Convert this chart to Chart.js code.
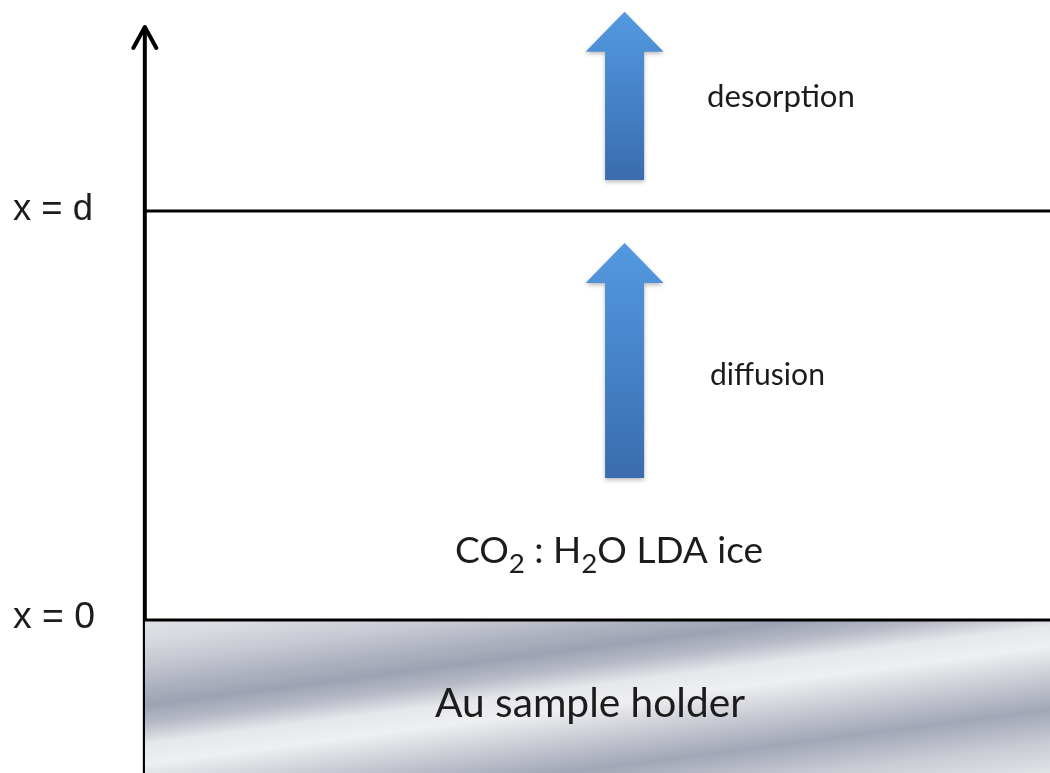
<!DOCTYPE html>
<html><head><meta charset="utf-8">
<script src="https://cdn.jsdelivr.net/npm/chart.js@4.4.1/dist/chart.umd.min.js"></script>
<style>html,body{margin:0;padding:0;background:#fff}#wrap{width:1050px;height:773px;position:relative}</style>
</head><body><div id="wrap"><canvas id="c"></canvas></div>
<script>
// ---- data (depth in units of the ice thickness d) ----
const levelValues = [0, 1];
const levelLabels = ['x = 0', 'x = d'];
const axisRange = [-0.374, 1.45];
const processNames = ['diffusion', 'desorption'];
const processFrom = [0.347, 1.076];
const processTo = [0.922, 1.487];
const regionLabels = ['CO₂ : H₂O LDA ice', 'Au sample holder'];

// ---- layout / style (not data) ----
const X_MIN = -0.160, X_MAX = 1.0, Y_MIN = -0.374, Y_MAX = 1.516;
const ARROW_X = 0.530;
const levelLabelStyle = { left: 13, widths: [82, 80], base: [8, 9] };
const processLabelStyle = { lefts: [710, 707], widths: [115, 148], baselines: [0.575, 1.254] };
const regionLabelStyle = { centers: [609, 590], widths: [308, 310], baselines: [0.139, -0.237] };
const TEXT_FONT = 'Lato, "Open Sans", sans-serif';
const LEVEL_FONT = '"Liberation Sans", Arial, sans-serif';

function fitSize(ctx, w, family, measureFn) {
  ctx.font = '100px ' + family;
  const m = measureFn(100);
  return 100 * w / m;
}
function subParts(text) {
  const parts = [];
  let cur = '';
  for (const ch of text) {
    if (ch === '₂') { if (cur) parts.push({t: cur, sub: false}); cur = ''; parts.push({t: '2', sub: true}); }
    else cur += ch;
  }
  if (cur) parts.push({t: cur, sub: false});
  return parts;
}
function measureRich(ctx, parts, size, family) {
  let w = 0;
  for (const p of parts) {
    ctx.font = (p.sub ? size * 0.75 : size) + 'px ' + family;
    w += ctx.measureText(p.t).width;
  }
  return w;
}
function drawRich(ctx, parts, x, y, size, family) {
  let cx = x;
  for (const p of parts) {
    ctx.font = (p.sub ? size * 0.75 : size) + 'px ' + family;
    ctx.fillText(p.t, cx, p.sub ? y + size * 0.26 : y);
    cx += ctx.measureText(p.t).width;
  }
}

function auGradient(context) {
  const chart = context.chart;
  const { ctx, chartArea, scales } = chart;
  if (!chartArea) return '#c8cad2';
  const x0 = scales.x.getPixelForValue(0);
  const y0 = scales.y.getPixelForValue(0);
  const slope = 0.13;
  const xr = scales.x.getPixelForValue(X_MAX);
  const yb = scales.y.getPixelForValue(Y_MIN);
  const span = (yb - y0) + slope * (xr - x0);
  const k = span / (1 + slope * slope);
  const g = ctx.createLinearGradient(x0, y0, x0 + slope * k, y0 + k);
  const stops = [[0,'#e0e1e6'],[0.067,'#d9dbe1'],[0.16,'#c5c8d1'],[0.253,'#acb0be'],[0.316,'#9da2b3'],[0.383,'#b7bac6'],[0.457,'#e6e7eb'],[0.532,'#eeeff1'],[0.625,'#d0d2d9'],[0.766,'#a2a6b6'],[0.885,'#c8cbd3'],[1,'#e2e3e7']];
  for (const [o, c] of stops) g.addColorStop(o, c);
  return g;
}

const diagramPlugin = {
  id: 'diagram',
  afterDatasetsDraw(chart) {
    const { ctx, scales } = chart;
    const sx = scales.x, sy = scales.y;
    ctx.save();
    // axis arrow head (open chevron)
    const ax = sx.getPixelForValue(0), ay = sy.getPixelForValue(axisRange[1]);
    ctx.strokeStyle = '#000'; ctx.lineWidth = 4; ctx.lineCap = 'round'; ctx.lineJoin = 'round';
    ctx.beginPath(); ctx.moveTo(ax - 11.5, ay + 21); ctx.lineTo(ax, ay); ctx.lineTo(ax + 11.5, ay + 21); ctx.stroke();
    // process arrows
    for (let i = 0; i < processNames.length; i++) {
      const cx = sx.getPixelForValue(ARROW_X);
      const yb = sy.getPixelForValue(processFrom[i]);
      const yt = sy.getPixelForValue(processTo[i]);
      const headLen = 40, shaftHW = 19.5, headHW = 39;
      const g = ctx.createLinearGradient(0, yt, 0, yb);
      g.addColorStop(0, '#5399e0'); g.addColorStop(0.5, '#4683c9'); g.addColorStop(1, '#3a6cae');
      ctx.save();
      ctx.shadowColor = 'rgba(0,0,0,0.28)'; ctx.shadowBlur = 4; ctx.shadowOffsetY = 2;
      ctx.fillStyle = g;
      ctx.beginPath();
      ctx.moveTo(cx, yt);
      ctx.lineTo(cx + headHW, yt + headLen);
      ctx.lineTo(cx + shaftHW, yt + headLen);
      ctx.lineTo(cx + shaftHW, yb);
      ctx.lineTo(cx - shaftHW, yb);
      ctx.lineTo(cx - shaftHW, yt + headLen);
      ctx.lineTo(cx - headHW, yt + headLen);
      ctx.closePath(); ctx.fill();
      ctx.restore();
      // label
      const size = fitSize(ctx, processLabelStyle.widths[i], TEXT_FONT, s => ctx.measureText(processNames[i]).width);
      ctx.font = size + 'px ' + TEXT_FONT; ctx.fillStyle = '#1c1c1c'; ctx.textBaseline = 'alphabetic'; ctx.textAlign = 'left';
      ctx.fillText(processNames[i], processLabelStyle.lefts[i], sy.getPixelForValue(processLabelStyle.baselines[i]));
    }
    // level labels
    for (let i = 0; i < levelValues.length; i++) {
      const size = fitSize(ctx, levelLabelStyle.widths[i], LEVEL_FONT, s => ctx.measureText(levelLabels[i]).width);
      ctx.font = size + 'px ' + LEVEL_FONT; ctx.fillStyle = '#1c1c1c'; ctx.textAlign = 'left'; ctx.textBaseline = 'alphabetic';
      ctx.fillText(levelLabels[i], levelLabelStyle.left, sy.getPixelForValue(levelValues[i]) + levelLabelStyle.base[i]);
    }
    // region labels
    for (let i = 0; i < regionLabels.length; i++) {
      const parts = subParts(regionLabels[i]);
      const w100 = measureRich(ctx, parts, 100, TEXT_FONT);
      const size = 100 * regionLabelStyle.widths[i] / w100;
      const w = measureRich(ctx, parts, size, TEXT_FONT);
      ctx.fillStyle = '#1c1c1c'; ctx.textAlign = 'left'; ctx.textBaseline = 'alphabetic';
      drawRich(ctx, parts, regionLabelStyle.centers[i] - w / 2, sy.getPixelForValue(regionLabelStyle.baselines[i]), size, TEXT_FONT);
    }
    ctx.restore();
  }
};

const datasets = [];
levelValues.forEach((v, i) => {
  datasets.push({
    label: levelLabels[i],
    data: [{x: 0, y: v}, {x: X_MAX, y: v}],
    borderColor: '#000', borderWidth: 3, pointRadius: 0,
    fill: v === 0 ? 'start' : false,
    backgroundColor: v === 0 ? auGradient : 'transparent'
  });
});
datasets.push({
  label: 'axis',
  data: [{x: 0, y: axisRange[0]}, {x: 0, y: axisRange[1]}],
  borderColor: '#000', borderWidth: 4, pointRadius: 0, fill: false
});

new Chart(document.getElementById('c'), {
  type: 'line',
  data: { datasets },
  options: {
    responsive: true, maintainAspectRatio: false, animation: false,
    layout: { padding: 0 },
    parsing: false,
    scales: {
      x: { type: 'linear', min: X_MIN, max: X_MAX, display: false },
      y: { type: 'linear', min: Y_MIN, max: Y_MAX, display: false }
    },
    plugins: { legend: { display: false }, tooltip: { enabled: false } },
    events: []
  },
  plugins: [diagramPlugin]
});
</script></body></html>
